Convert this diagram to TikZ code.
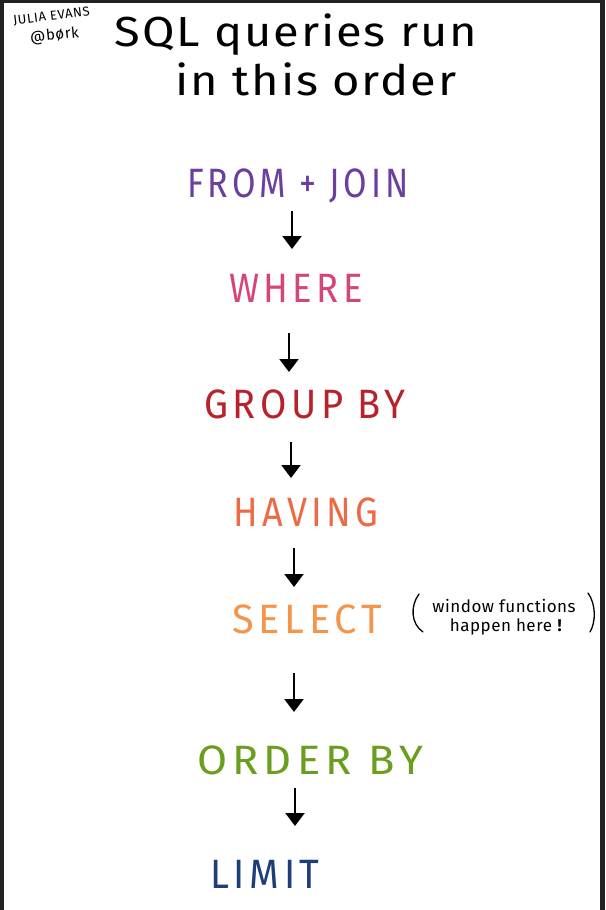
\documentclass[tikz,border=0pt]{standalone}
\usepackage{fontspec}
\setmainfont{Fira Sans}
\usetikzlibrary{arrows.meta}
\definecolor{frame}{HTML}{222222}
\definecolor{cfrom}{HTML}{6B3FA0}
\definecolor{cwhere}{HTML}{D6457A}
\definecolor{cgroup}{HTML}{B8232B}
\definecolor{chaving}{HTML}{EE6A45}
\definecolor{cselect}{HTML}{F5954A}
\definecolor{corder}{HTML}{6A9E1F}
\definecolor{climit}{HTML}{1E3E78}
\tikzset{
  kw/.style={anchor=base, inner sep=0pt, font=\fontsize{41}{43}\selectfont\addfontfeatures{LetterSpace=12}},
  ttl/.style={anchor=base, inner sep=0pt, font=\fontsize{42}{44}\selectfont\addfontfeatures{LetterSpace=4}},
  note/.style={anchor=base, inner sep=0pt, font=\fontsize{17}{18}\selectfont\addfontfeatures{LetterSpace=3}},
  arr/.style={line width=2.4pt, -{Triangle[width=19pt,length=13pt]}},
  paren/.style={line width=1.3pt, line cap=round},
}
\begin{document}
\begin{tikzpicture}[x=1pt,y=-1pt]
\fill[frame] (0,0) rectangle (605,910);
\fill[white] (4,3) rectangle (600,910);
\useasboundingbox (0,0) rectangle (605,910);
% signature
\node[anchor=base, inner sep=0pt, rotate=7, font=\fontsize{13}{14}\selectfont\addfontfeatures{LetterSpace=5}] (sig1) at (52,20) {JULIA EVANS};
\node[anchor=base, inner sep=0pt, rotate=6, font=\fontsize{15}{16}\selectfont\addfontfeatures{LetterSpace=4}] (sig2) at (55,40) {@børk};
% title
\node[ttl, xscale=1.12] (t1) at (296,46) {SQL queries run};
\node[ttl, xscale=1.12] (t2) at (316,95) {in this order};
% steps
\node[kw, text=cfrom, xscale=0.83] (from) at (298,197) {FROM + JOIN};
\node[kw, text=cwhere, xscale=0.89] (where) at (296,302) {WHERE};
\node[kw, text=cgroup, xscale=0.93] (group) at (305,418) {GROUP BY};
\node[kw, text=chaving, xscale=0.88] (having) at (306,526) {HAVING};
\node[kw, text=cselect, xscale=0.97] (select) at (307,633) {SELECT};
\node[kw, text=corder, xscale=1.06] (order) at (310,774) {ORDER BY};
\node[kw, text=climit, xscale=0.93] (limit) at (265,888) {LIMIT};
% annotation
\node[note] (ann1) at (504,612) {window functions};
\node[note] (ann2) at (506,631) {happen here \textbf{!}};
\draw[paren] (419,594) .. controls (410,606) and (411,624) .. (423,632);
\draw[paren] (588,593) .. controls (596,604) and (596,622) .. (590,632);
% arrows
\coordinate (a1s) at (292,211); \coordinate (a1e) at (292,249);
\coordinate (a2s) at (289,333); \coordinate (a2e) at (289,372);
\coordinate (a3s) at (291,442); \coordinate (a3e) at (291,478);
\coordinate (a4s) at (294,548); \coordinate (a4e) at (294,587);
\coordinate (a5s) at (294,673); \coordinate (a5e) at (294,712);
\coordinate (a6s) at (295,788); \coordinate (a6e) at (295,826);
\draw[arr] (a1s) -- (a1e);
\draw[arr] (a2s) -- (a2e);
\draw[arr] (a3s) -- (a3e);
\draw[arr] (a4s) -- (a4e);
\draw[arr] (a5s) -- (a5e);
\draw[arr] (a6s) -- (a6e);
\end{tikzpicture}
\end{document}
